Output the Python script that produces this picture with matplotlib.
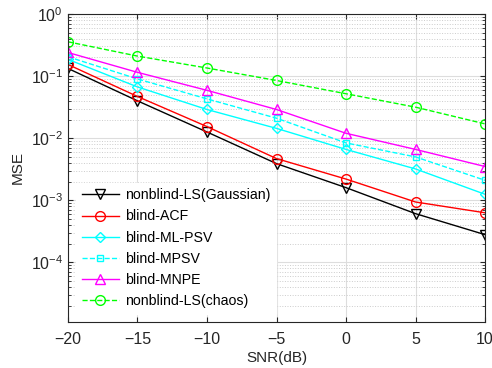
import matplotlib
matplotlib.use("Agg")
import matplotlib.pyplot as plt
from matplotlib.ticker import LogLocator, NullFormatter

plt.rcParams["font.family"] = ["Liberation Sans", "DejaVu Sans"]

snr = [-20, -15, -10, -5, 0, 5, 10]

ls_gauss = [0.133, 0.040, 0.0126, 0.0039, 0.0016, 0.00061, 0.00028]
acf = [0.154, 0.047, 0.0154, 0.0047, 0.0022, 0.00094, 0.00063]
ml_psv = [0.186, 0.067, 0.029, 0.0144, 0.0066, 0.0032, 0.00125]
mpsv = [0.205, 0.090, 0.043, 0.021, 0.0084, 0.0050, 0.0021]
mnpe = [0.24, 0.115, 0.059, 0.029, 0.012, 0.0066, 0.0035]
ls_chaos = [0.357, 0.21, 0.135, 0.085, 0.052, 0.0316, 0.017]

labels = ["nonblind-LS(Gaussian)", "blind-ACF", "blind-ML-PSV",
          "blind-MPSV", "blind-MNPE", "nonblind-LS(chaos)"]

fig = plt.figure(figsize=(4.92, 3.68), dpi=100)
ax = fig.add_axes([0.138, 0.125, 0.848, 0.837])

styles = [
    (ls_gauss, "k", "-", "v"),
    (acf, "#ff0000", "-", "o"),
    (ml_psv, "#00ffff", "-", "D"),
    (mpsv, "#00ffff", "--", "s"),
    (mnpe, "#ff00ff", "-", "^"),
    (ls_chaos, "#00ff00", "--", "o"),
]
for (vals, color, ls, mk), lab in zip(styles, labels):
    ms = 5 if mk in ("D", "s") else 7
    ax.semilogy(snr, vals, color=color, linestyle=ls, marker=mk,
                markerfacecolor="none", markeredgecolor=color,
                markersize=ms, linewidth=1.0, label=lab)

ax.set_xlim(-20, 10)
ax.set_ylim(1.1e-5, 1)
ax.set_xticks(snr)
ax.yaxis.set_major_locator(LogLocator(base=10, numticks=10))
ax.yaxis.set_minor_locator(LogLocator(base=10, subs=range(2, 10), numticks=20))
ax.yaxis.set_minor_formatter(NullFormatter())

ax.grid(True, which="major", color="#dddddd", linewidth=0.8)
ax.grid(True, which="minor", axis="y", color="#cccccc", linestyle=":", linewidth=0.7)
ax.set_axisbelow(True)
ax.tick_params(direction="in", which="both", top=True, right=True,
               labelsize=11.5, colors="#262626")
ax.tick_params(axis="x", pad=7)
for s in ax.spines.values():
    s.set_color("#262626")

ax.set_xlabel("SNR(dB)", fontsize=11, color="#262626", labelpad=3)
ax.set_ylabel("MSE", fontsize=11, color="#262626", labelpad=4)

leg = ax.legend(loc="lower left", fontsize=10.2, frameon=True, fancybox=False,
                handlelength=2.6, borderaxespad=0.6, labelspacing=0.5,
                handletextpad=0.4, borderpad=0.4)
leg.get_frame().set_edgecolor("white")
leg.get_frame().set_alpha(1)

fig.savefig("out.png", dpi=100)
